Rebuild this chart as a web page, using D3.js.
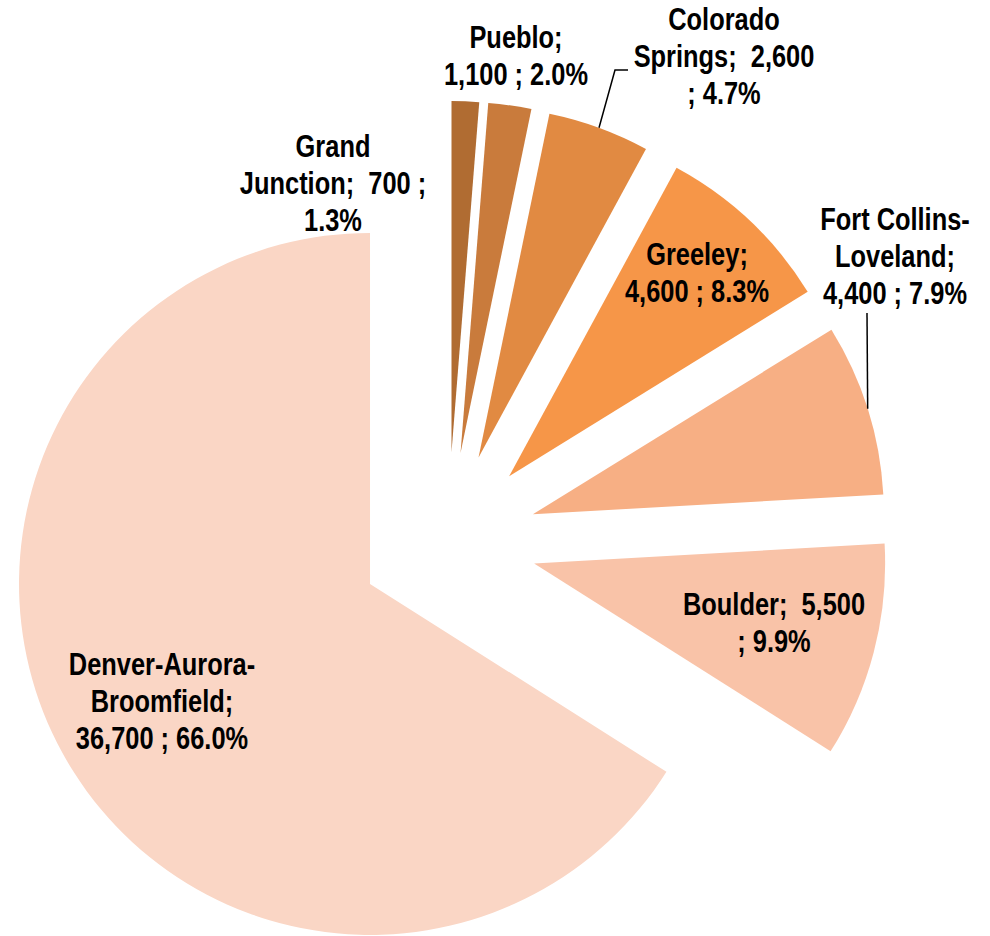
<!DOCTYPE html>
<html>
<head>
<meta charset="utf-8">
<script src="https://cdn.jsdelivr.net/npm/d3@7"></script>
<style>
    body { margin: 0; background: #fff; }
    .lbl { font-family: "Liberation Sans Narrow", "Arial Narrow", "Liberation Sans", sans-serif;
           font-weight: bold; font-size: 31px; fill: #000; white-space: pre; }
</style>
</head>
<body>
<svg id="chart" width="990" height="936"></svg>
<script>
// Metro areas, clockwise from 12 o'clock
var areas = ["Grand Junction", "Pueblo", "Colorado Springs", "Greeley",
             "Fort Collins-Loveland", "Boulder", "Denver-Aurora-Broomfield"];
var jobs = [700, 1100, 2600, 4600, 4400, 5500, 36700];
var shares = ["1.3%", "2.0%", "4.7%", "8.3%", "7.9%", "9.9%", "66.0%"];
// label text as Excel wrapped it
var labelLines = [
    ["Grand", "Junction;  700 ;", "1.3%"],
    ["Pueblo;", "1,100 ; 2.0%"],
    ["Colorado", "Springs;  2,600", "; 4.7%"],
    ["Greeley;", "4,600 ; 8.3%"],
    ["Fort Collins-", "Loveland;", "4,400 ; 7.9%"],
    ["Boulder;  5,500", "; 9.9%"],
    ["Denver-Aurora-", "Broomfield;", "36,700 ; 66.0%"]
];
var colors = ["#b06c32", "#c97b3c", "#e18a42", "#f69648", "#f7af84", "#f9c3a8", "#fad6c5"];

// layout
var cx = 448, cy = 541;
var radius = 351;
var explode = 89;
var lineH = 37;
// label anchor: [centre x, first baseline]
var labelPos = [[333, 157], [516, 48], [724, 30], [697, 265], [895, 230], [774, 615], [162, 675]];
// leader lines: index -> elbow points after the arc point
var leaders = { 2: [[615, 70], [628, 70]], 4: [[867, 313]] };

var $svg = d3.select("#chart");

var pie = d3.pie().sort(null).value(d => d).startAngle(0).endAngle(2 * Math.PI);
var arc = d3.arc().innerRadius(0).outerRadius(radius);
var arcs = pie(jobs);

function offset(a) {
    let mid = (a.startAngle + a.endAngle) / 2;
    return [cx + explode * Math.sin(mid), cy - explode * Math.cos(mid)];
}

$svg.append("g").selectAll("path")
    .data(arcs)
    .join("path")
    .attr("d", arc)
    .attr("fill", (d, i) => colors[i])
    .attr("transform", d => { let o = offset(d); return `translate(${o[0]} ${o[1]})`; });

// leader lines from the slice edge at its bisector
var line = d3.line();
Object.keys(leaders).forEach(k => {
    let a = arcs[k];
    let o = offset(a);
    let mid = (a.startAngle + a.endAngle) / 2;
    let start = [o[0] + radius * Math.sin(mid), o[1] - radius * Math.cos(mid)];
    $svg.append("path")
        .attr("d", line([start].concat(leaders[k])))
        .attr("fill", "none")
        .attr("stroke", "#000")
        .attr("stroke-width", 1.5);
});

// check whether the narrow font is there, otherwise squeeze the regular one
var ctx = document.createElement("canvas").getContext("2d");
ctx.font = "bold 30px 'Liberation Sans Narrow', monospace";
var wNarrow = ctx.measureText("Junction; 700").width;
ctx.font = "bold 30px monospace";
var wMono = ctx.measureText("Junction; 700").width;
var squeeze = Math.abs(wNarrow - wMono) < 0.5 ? 0.82 : 1;

var $labels = $svg.append("g");
labelLines.forEach((lines, i) => {
    let p = labelPos[i];
    let $t = $labels.append("text")
        .attr("class", "lbl")
        .attr("text-anchor", "middle")
        .attr("transform", `translate(${p[0]} ${p[1]}) scale(${squeeze} 1)`);
    lines.forEach((s, j) => {
        $t.append("tspan").attr("x", 0).attr("y", j * lineH).text(s);
    });
});
</script>
</body>
</html>
